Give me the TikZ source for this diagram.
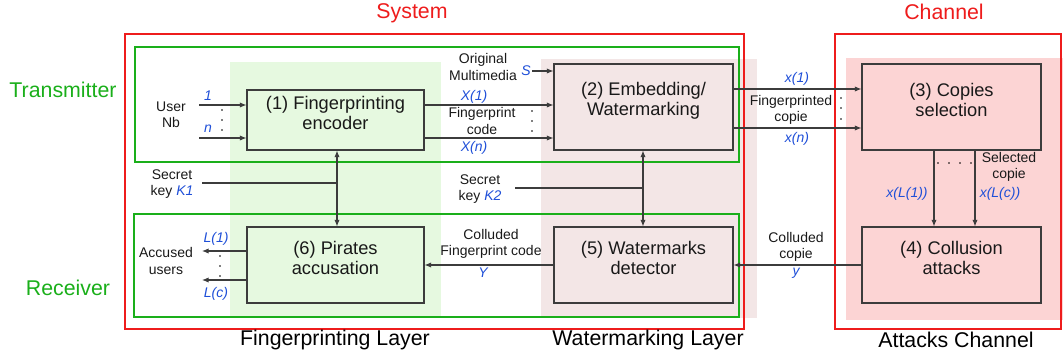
\documentclass[tikz,border=0pt]{standalone}
\usepackage{fontspec}
\setmainfont{Liberation Sans}
\usetikzlibrary{arrows.meta,fit}
\definecolor{sysred}{HTML}{EE1C1C}
\definecolor{grn}{HTML}{1AAF1A}
\definecolor{lblue}{HTML}{1F4FD8}
\definecolor{layA}{HTML}{E6F9E0}
\definecolor{layB}{HTML}{F3E6E6}
\definecolor{layC}{HTML}{FCD4D4}
\definecolor{wire}{HTML}{3C3C3C}
\begin{document}
\begin{tikzpicture}[x=0.75pt,y=-0.75pt,
 box/.style={draw=wire, line width=0.8pt, inner sep=0pt, align=center, font=\fontsize{13.7}{15}\selectfont, text=black!90},
 lbl/.style={align=center, font=\fontsize{10.5}{12.2}\selectfont, inner sep=1pt, text=black!90},
 var/.style={font=\fontsize{10.5}{12}\selectfont\itshape, text=lblue, inner sep=1pt},
 ttl/.style={font=\fontsize{16}{18}\selectfont, inner sep=0pt},
 frame/.style={line width=1.2pt},
 conn/.style={draw=wire, line width=0.8pt},
 arr/.style={conn, -{Latex[length=5pt,width=4pt]}},
 dotc/.style={fill=black}
]
\useasboundingbox (0,0) rectangle (1063,357);
% layers
\fill[layA] (230,62) rectangle (441,317);
\fill[layB] (541,59) rectangle (757,318);
\fill[layC] (846,58) rectangle (1063,320);
% frames
\draw[sysred, frame] (125,34) rectangle (744,329);
\draw[sysred, frame] (835,34) rectangle (1061,329);
\draw[grn, frame] (135,47) rectangle (739,162);
\draw[grn, frame] (134,214) rectangle (739,317);
% titles
\node[ttl, text=sysred] (tsys) at (412,13) {System};
\node[ttl, text=sysred] (tch) at (944,12) {Channel};
\node[ttl, text=grn] (ttx) at (63,90) {Transmitter};
\node[ttl, text=grn] (trx) at (68,288) {Receiver};
\node[ttl] (tfl) at (335,340) {Fingerprinting Layer};
\node[ttl] (twl) at (648,340) {Watermarking Layer};
\node[ttl] (tac) at (956,340) {Attacks Channel};
% boxes
\node[box, fit={(247,90) (424,150)}] (enc) {(1) Fingerprinting\\encoder};
\node[box, fit={(554,64) (733,150)}] (emb) {(2) Embedding/\\Watermarking};
\node[box, fit={(862,64) (1041,150)}] (sel) {(3) Copies\\selection};
\node[box, fit={(862,227) (1041,303)}] (col) {(4) Collusion\\attacks};
\node[box, fit={(554,227) (733,303)}] (det) {(5) Watermarks\\detector};
\node[box, fit={(247,227) (424,303)}] (acc) {(6) Pirates\\accusation};
% coordinates
\coordinate (u1) at (199,105);
\coordinate (un) at (199,138);
\coordinate (f1) at (733,89);
\coordinate (fn) at (733,128);
\coordinate (k1s) at (202,183);
\coordinate (j1) at (337,183);
\coordinate (k2s) at (515,188);
\coordinate (j2) at (643,188);
\coordinate (s1) at (934,150);
\coordinate (sc) at (975,150);
\coordinate (a1) at (202,251);
\coordinate (ac) at (202,280);
% user inputs
\node[lbl] (user) at (171,115) {User\\Nb};
\node[var] (v1) at (208,96) {1};
\node[var] (vn) at (208,129) {n};
\fill[dotc] (222,110) circle (0.9) (222,120) circle (0.9) (222,130) circle (0.9);
\draw[arr] (u1) -- (u1 -| enc.west);
\draw[arr] (un) -- (un -| enc.west);
% encoder outputs
\draw[arr] (u1 -| enc.east) -- (u1 -| emb.west);
\draw[arr] (un -| enc.east) -- (un -| emb.west);
\node[var] (vX1) at (474,97) {X(1)};
\node[var] (vXn) at (474,148) {X(n)};
\node[lbl] (fpc) at (482,121) {Fingerprint\\code};
\fill[dotc] (532,111) circle (0.9) (532,121) circle (0.9) (532,131) circle (0.9);
% original multimedia
\node[lbl] (orig) at (483,67) {Original\\Multimedia};
\node[var] (vS) at (526,71) {S};
\draw[arr] (vS.east) -- (vS.east -| emb.west);
% embedding outputs
\draw[arr] (f1) -- (f1 -| sel.west);
\draw[arr] (fn) -- (fn -| sel.west);
\node[var] (vx1) at (797,79) {x(1)};
\node[var] (vxn) at (797,139) {x(n)};
\node[lbl] (fpcop) at (791,110) {Fingerprinted\\copie};
\fill[dotc] (841,98) circle (0.9) (841,108) circle (0.9) (841,119) circle (0.9);
% secret keys
\node[lbl] (k1) at (172,184) {Secret\\key {\itshape\color{lblue}K1}};
\draw[conn] (k1s) -- (j1);
\draw[arr] (j1) -- (j1 |- enc.south);
\draw[arr] (j1) -- (j1 |- acc.north);
\node[lbl] (k2) at (480,189) {Secret\\key {\itshape\color{lblue}K2}};
\draw[conn] (k2s) -- (j2);
\draw[arr] (j2) -- (j2 |- emb.south);
\draw[arr] (j2) -- (j2 |- det.north);
% selection to collusion
\draw[arr] (s1) -- (s1 |- col.north);
\draw[arr] (sc) -- (sc |- col.north);
\fill[dotc] (938,163) circle (0.9) (949,163) circle (0.9) (960,163) circle (0.9) (971,163) circle (0.9);
\node[lbl] (selc) at (1009,167) {Selected\\copie};
\node[var] (vxl1) at (907,194) {x(L(1))};
\node[var] (vxlc) at (1000,194) {x(L(c))};
% collusion to detector
\draw[arr] (col.west) -- (det.east);
\node[lbl] (colc) at (796,247) {Colluded\\copie};
\node[var] (vy) at (796,273) {y};
% detector to accusation
\draw[arr] (det.west) -- (acc.east);
\node[lbl] (colf) at (491,244) {Colluded\\Fingerprint code};
\node[var] (vY) at (483,273) {Y};
% accused
\draw[arr] (a1 -| acc.west) -- (a1);
\draw[arr] (ac -| acc.west) -- (ac);
\node[lbl] (accu) at (166,261) {Accused\\users};
\node[var] (vL1) at (216,239) {L(1)};
\node[var] (vLc) at (216,294) {L(c)};
\fill[dotc] (220,256) circle (0.9) (220,266) circle (0.9) (220,276) circle (0.9);
\end{tikzpicture}
\end{document}
